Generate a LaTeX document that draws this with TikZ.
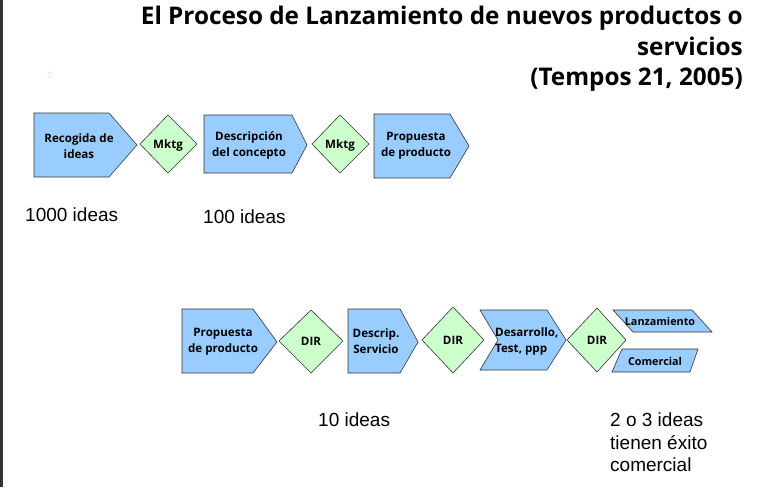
\documentclass[tikz,border=0pt]{standalone}
\usepackage{fontspec}
\setmainfont{Liberation Sans}
\newfontfamily\titlefont{Open Sans}
\definecolor{shapeblue}{HTML}{99CCFF}
\definecolor{shapegreen}{HTML}{CCFFCC}
\definecolor{edgegrey}{HTML}{333333}
\begin{document}
\begin{tikzpicture}[x=1pt,y=-1pt,
  blueshape/.style={fill=shapeblue,draw=edgegrey,line width=0.6pt,line join=miter},
  greenshape/.style={fill=shapegreen,draw=edgegrey,line width=0.6pt},
  lbl/.style={font=\titlefont\bfseries\fontsize{11.6}{16}\selectfont,align=center,inner sep=0pt},
  smalllbl/.style={lbl,font=\titlefont\bfseries\fontsize{10.8}{12}\selectfont},
  note/.style={font=\fontsize{19}{22.5}\selectfont,inner sep=0pt,align=left},
  titletxt/.style={font=\titlefont\bfseries\fontsize{24.3}{30.5}\selectfont,align=right,inner sep=0pt}]
\useasboundingbox (0,0) rectangle (762,487);
\fill[white] (0,0) rectangle (762,487);
\fill[black!80] (0,0) rectangle (3,487);

% title
\node[titletxt,anchor=north east] (title) at (743,6) {El Proceso de Lanzamiento de nuevos productos o\\servicios\\(Tempos 21, 2005)};
\node[font=\fontsize{9}{9}\selectfont,text=black!12] (pagenum) at (50,75) {2};

% row 1
\draw[blueshape] (34,113) -- (109,113) -- (137,145) -- (109,177) -- (34,177) -- cycle;
\node[lbl] (p1) at (79,146) {Recogida de\\ideas};
\draw[greenshape] (168,115) -- (197,144) -- (168,173) -- (140,144) -- cycle;
\node[lbl] (m1) at (168,145) {Mktg};
\draw[blueshape] (204,115) -- (292,115) -- (307,145) -- (292,173) -- (204,173) -- cycle;
\node[lbl] (p2) at (249,145) {Descripción\\del concepto};
\draw[greenshape] (340,115) -- (369,144) -- (340,173) -- (312,144) -- cycle;
\node[lbl] (m2) at (340,145) {Mktg};
\draw[blueshape] (374,114) -- (450,114) -- (469,146) -- (450,178) -- (374,178) -- cycle;
\node[lbl] (p3) at (416,146) {Propuesta\\de producto};

\node[note,anchor=west] (n1) at (25,215) {1000 ideas};
\node[note,anchor=west] (n2) at (203,217) {100 ideas};

% row 2
\draw[blueshape] (182,309) -- (253,309) -- (277,342) -- (253,373) -- (182,373) -- cycle;
\node[lbl] (p4) at (223,342) {Propuesta\\de producto};
\draw[greenshape] (311,310) -- (343,341) -- (311,373) -- (279,341) -- cycle;
\node[lbl] (d1) at (311,341) {DIR};
\draw[blueshape] (348,309) -- (400,309) -- (418,342) -- (400,373) -- (348,373) -- cycle;
\node[lbl] (p5) at (376,341) {Descrip.\\Servicio};
\draw[greenshape] (453,307) -- (484,340) -- (453,373) -- (422,340) -- cycle;
\node[lbl] (d2) at (453,340) {DIR};
\draw[blueshape] (480,310) -- (547,310) -- (566,340) -- (547,370) -- (480,370) -- (498,340) -- cycle;
\node[lbl,align=left,anchor=west] (p6) at (495,341) {Desarrollo,\\Test, ppp};
\draw[greenshape] (597,308) -- (626,340) -- (597,372) -- (567,340) -- cycle;
\node[lbl] (d3) at (597,340) {DIR};
\draw[blueshape] (613,310) -- (692,310) -- (712,332) -- (633,332) -- cycle;
\node[smalllbl] (l1) at (660,321) {Lanzamiento};
\draw[blueshape] (622,349) -- (698,349) -- (690,372) -- (612,372) -- cycle;
\node[smalllbl] (l2) at (655,361) {Comercial};

\node[note,anchor=west] (n3) at (318,420) {10 ideas};
\node[note,anchor=north west] (n4) at (610,413) {2 o 3 ideas\\tienen éxito\\comercial};
\end{tikzpicture}
\end{document}
